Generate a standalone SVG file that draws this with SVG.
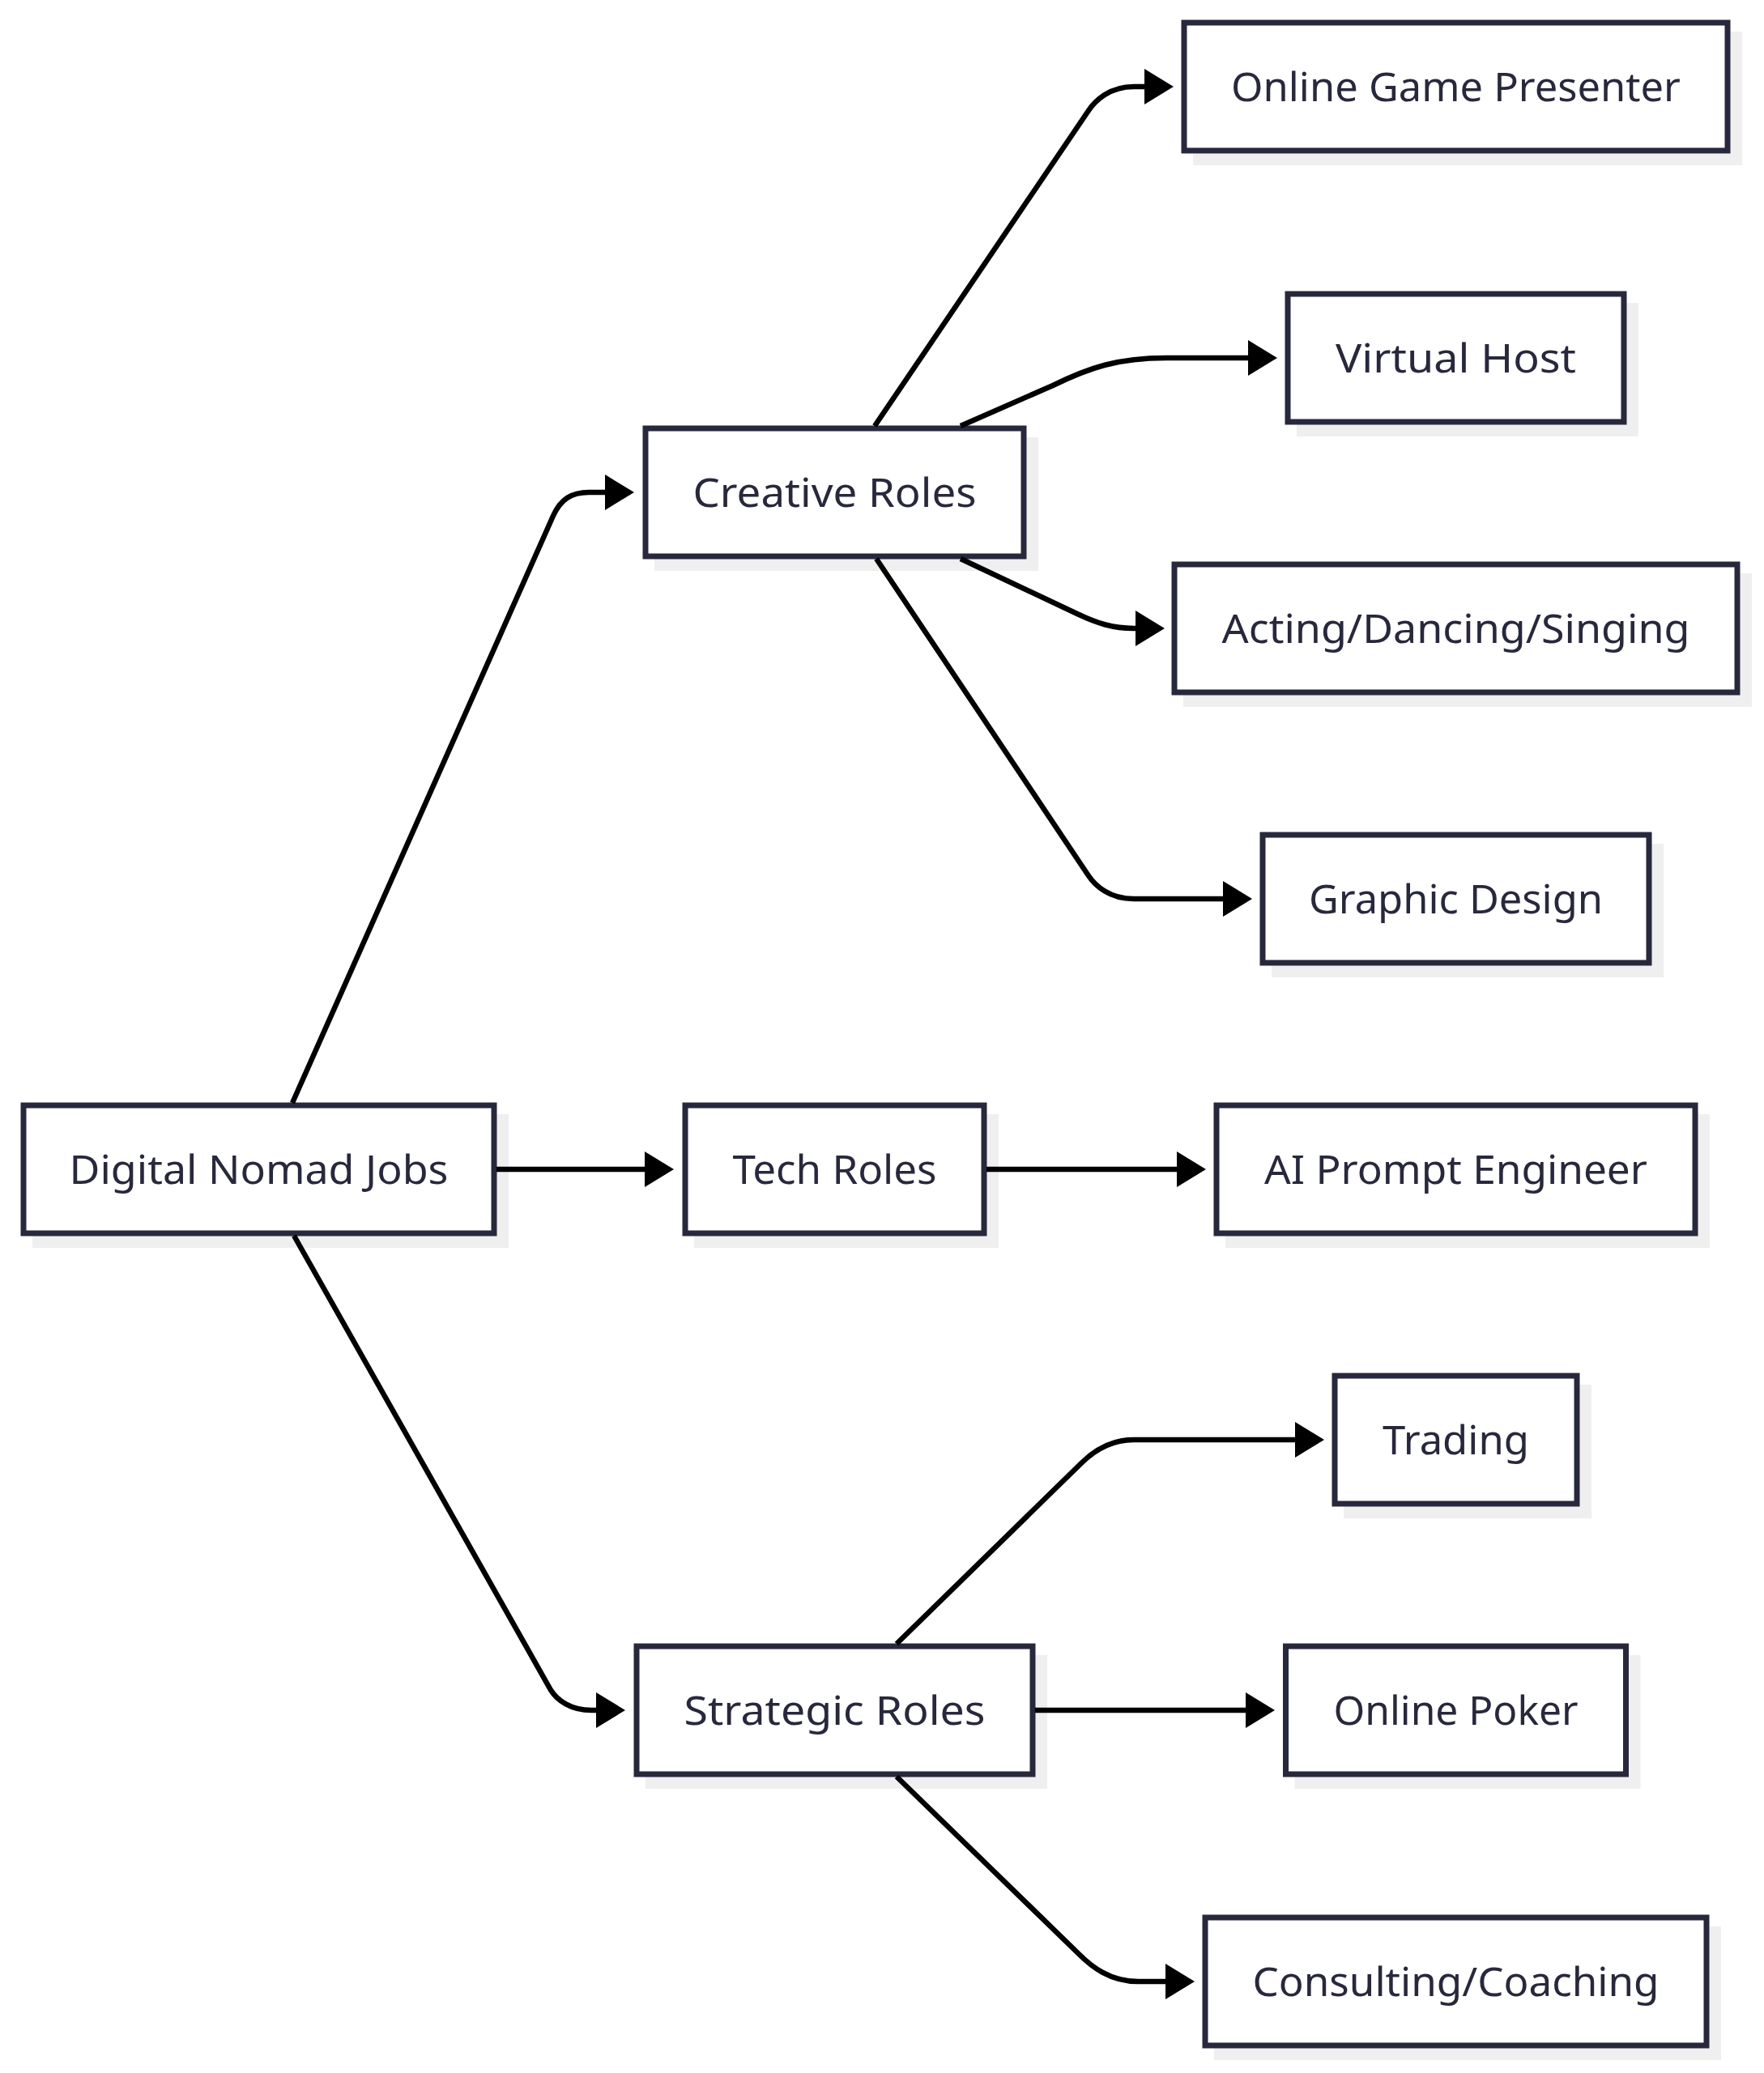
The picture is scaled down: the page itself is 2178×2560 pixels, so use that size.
<svg xmlns="http://www.w3.org/2000/svg" width="2178" height="2560" viewBox="0 0 2178 2560">
<style>
.bg{fill:#ffffff}
.shadow{fill:#efefef;stroke:none}
.box{fill:#ffffff;stroke:#28283d;stroke-width:7}
.label{font-family:"Noto Sans","Liberation Sans",sans-serif;font-size:50px;fill:#28283d;text-anchor:middle}
.edge{fill:none;stroke:#000000;stroke-width:6.5;marker-end:url(#arrow)}
</style>
<defs>
<marker id="arrow" viewBox="0 0 36 44" markerWidth="36" markerHeight="44" markerUnits="userSpaceOnUse" refX="4" refY="22" orient="auto">
<path d="M0,0 L36,22 L0,44 z" fill="#000000"/>
</marker>
</defs>
<rect class="bg" x="0" y="0" width="2178" height="2560"/>

<g id="node-digital-nomad-jobs">
<rect class="shadow" x="40" y="1376" width="588" height="165"/>
<rect class="box" x="29" y="1365" width="581" height="158"/>
<text class="label" x="319.5" y="1462" textLength="468" lengthAdjust="spacingAndGlyphs">Digital Nomad Jobs</text>
</g>

<g id="node-creative-roles">
<rect class="shadow" x="808" y="540" width="474" height="165"/>
<rect class="box" x="797" y="529" width="467" height="158"/>
<text class="label" x="1030.5" y="626" textLength="350" lengthAdjust="spacingAndGlyphs">Creative Roles</text>
</g>

<g id="node-tech-roles">
<rect class="shadow" x="857" y="1376" width="376" height="165"/>
<rect class="box" x="846" y="1365" width="369" height="158"/>
<text class="label" x="1030.5" y="1462" textLength="252" lengthAdjust="spacingAndGlyphs">Tech Roles</text>
</g>

<g id="node-strategic-roles">
<rect class="shadow" x="797" y="2044" width="496" height="165"/>
<rect class="box" x="786" y="2033" width="489" height="158"/>
<text class="label" x="1030.5" y="2130" textLength="372" lengthAdjust="spacingAndGlyphs">Strategic Roles</text>
</g>

<g id="node-online-game-presenter">
<rect class="shadow" x="1473" y="39" width="678" height="165"/>
<rect class="box" x="1462" y="28" width="671" height="158"/>
<text class="label" x="1797.5" y="125" textLength="555" lengthAdjust="spacingAndGlyphs">Online Game Presenter</text>
</g>

<g id="node-virtual-host">
<rect class="shadow" x="1601" y="374" width="422" height="165"/>
<rect class="box" x="1590" y="363" width="415" height="158"/>
<text class="label" x="1797.5" y="460" textLength="297" lengthAdjust="spacingAndGlyphs">Virtual Host</text>
</g>

<g id="node-acting-dancing-singing">
<rect class="shadow" x="1461" y="708" width="702" height="165"/>
<rect class="box" x="1450" y="697" width="695" height="158"/>
<text class="label" x="1797.5" y="794" textLength="578" lengthAdjust="spacingAndGlyphs">Acting/Dancing/Singing</text>
</g>

<g id="node-graphic-design">
<rect class="shadow" x="1570" y="1042" width="484" height="165"/>
<rect class="box" x="1559" y="1031" width="477" height="158"/>
<text class="label" x="1797.5" y="1128" textLength="363" lengthAdjust="spacingAndGlyphs">Graphic Design</text>
</g>

<g id="node-ai-prompt-engineer">
<rect class="shadow" x="1513" y="1376" width="598" height="165"/>
<rect class="box" x="1502" y="1365" width="591" height="158"/>
<text class="label" x="1797.5" y="1462" textLength="473" lengthAdjust="spacingAndGlyphs">AI Prompt Engineer</text>
</g>

<g id="node-trading">
<rect class="shadow" x="1659" y="1710" width="306" height="165"/>
<rect class="box" x="1648" y="1699" width="299" height="158"/>
<text class="label" x="1797.5" y="1796" textLength="181" lengthAdjust="spacingAndGlyphs">Trading</text>
</g>

<g id="node-online-poker">
<rect class="shadow" x="1598.5" y="2044" width="427" height="165"/>
<rect class="box" x="1587.5" y="2033" width="420" height="158"/>
<text class="label" x="1797.5" y="2130" textLength="302" lengthAdjust="spacingAndGlyphs">Online Poker</text>
</g>

<g id="node-consulting-coaching">
<rect class="shadow" x="1499" y="2379" width="626" height="165"/>
<rect class="box" x="1488" y="2368" width="619" height="158"/>
<text class="label" x="1797.5" y="2465" textLength="502" lengthAdjust="spacingAndGlyphs">Consulting/Coaching</text>
</g>

<g id="connectors">
<path class="edge" d="M361,1362 L683,637 C692,617 705,608 727,608 L751,608"/>
<path class="edge" d="M613,1444 L800,1444"/>
<path class="edge" d="M363,1526 L680,2087 C688,2100 705,2112 730,2112 L740,2112"/>
<path class="edge" d="M1080,526 L1343,138 C1352,124 1370,107 1400,107 L1417,107"/>
<path class="edge" d="M1186,526 L1300,476 C1345,454 1380,442 1440,442 L1545,442"/>
<path class="edge" d="M1186,690 L1330,758 C1355,770 1375,776 1400,776 L1406,776"/>
<path class="edge" d="M1082,690 L1343,1080 C1352,1094 1370,1110 1400,1110 L1514,1110"/>
<path class="edge" d="M1218,1444 L1457,1444"/>
<path class="edge" d="M1107,2030 L1335,1807 C1347,1795 1368,1778 1400,1778 L1603,1778"/>
<path class="edge" d="M1278,2112 L1542,2112"/>
<path class="edge" d="M1107,2194 L1332,2413 C1347,2428 1370,2447 1405,2447 L1443,2447"/>
</g>
</svg>
